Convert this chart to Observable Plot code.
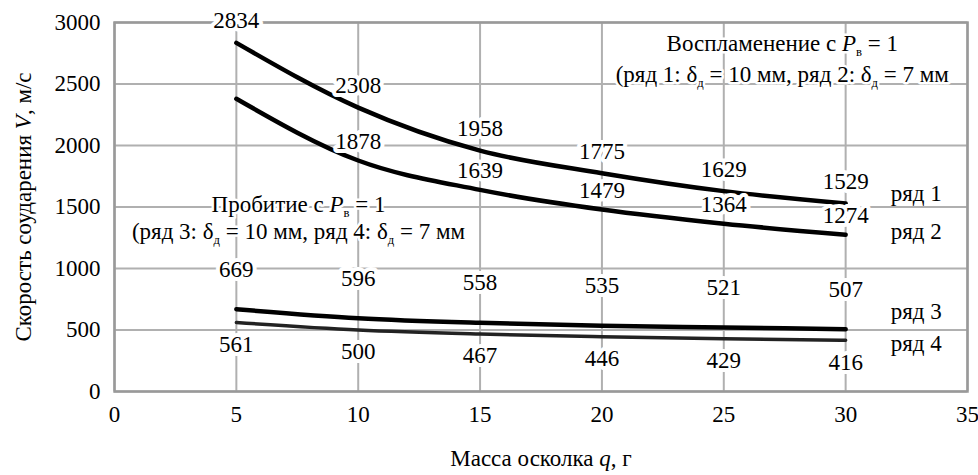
<!DOCTYPE html>
<html><head><meta charset="utf-8">
<script src="https://cdn.jsdelivr.net/npm/d3@7"></script>
<script src="https://cdn.jsdelivr.net/npm/@observablehq/plot@0.6"></script>
<style>
body{margin:0;background:#fff}
#chart svg, #chart svg text, #chart svg g {font-family:"Liberation Serif","Times New Roman",serif !important;}
</style>
</head><body><div id="chart"></div>
<script>
// ---- data ----
const masses  = [5, 10, 15, 20, 25, 30];
const series1 = [2834, 2308, 1958, 1775, 1629, 1529];
const series2 = [2380, 1878, 1639, 1479, 1364, 1274];
const series3 = [669, 596, 558, 535, 521, 507];
const series4 = [561, 500, 467, 446, 429, 416];
const series2Labeled = [false, true, true, true, true, true];
const seriesNames = ["ряд 1", "ряд 2", "ряд 3", "ряд 4"];
const xTicks = [0, 5, 10, 15, 20, 25, 30, 35];
const yTicks = [0, 500, 1000, 1500, 2000, 2500, 3000];
const xTitle = "Масса осколка *q*, г";
const yTitle = "Скорость соударения *V*, м/с";
const noteFire = ["Воспламенение с *P*_{в} = 1", "(ряд 1: δ_{д} = 10 мм, ряд 2: δ_{д} = 7 мм"];
const notePierce = ["Пробитие с *P*_{в} = 1", "(ряд 3: δ_{д} = 10 мм, ряд 4: δ_{д} = 7 мм"];
const noteFireAt = {x: 27.4, y: [2826, 2574]};
const notePierceAt = {x: 7.55, y: [1522, 1300]};

const rows = (vals) => masses.map((x, i) => ({x, v: vals[i], i}));
const d1 = rows(series1), d2 = rows(series2), d3 = rows(series3), d4 = rows(series4);
const allSeries = [d1, d2, d3, d4];
const ends = allSeries.map((d, k) => ({x: d[d.length - 1].x, v: d[d.length - 1].v, name: seriesNames[k]}));

const FS = 23;
const halo = {fill: "black", stroke: "white", strokeWidth: 8, fontSize: FS};
const noteHalo = {fill: "black", stroke: "white", strokeWidth: 5, fontSize: FS};
const lbl = (data, dy) => Plot.text(data, {x: "x", y: "v", text: d => String(d.v), dy, ...halo});
const note = (lines, at, k) => Plot.text([lines[k]], {x: () => at.x, y: () => at.y[k], text: d => d, ...noteHalo});

const chart = Plot.plot({
  width: 978, height: 475,
  marginLeft: 114, marginRight: 11, marginTop: 22, marginBottom: 84,
  style: {background: "white", color: "black"},
  x: {domain: [0, 35]},
  y: {domain: [0, 3000]},
  marks: [
    Plot.gridX(xTicks, {stroke: "#b0b0b0", strokeOpacity: 1, strokeWidth: 2}),
    Plot.gridY(yTicks, {stroke: "#b0b0b0", strokeOpacity: 1, strokeWidth: 2}),
    Plot.frame({stroke: "#999", strokeWidth: 2.5}),
    Plot.axisX(xTicks, {tickSize: 0, tickPadding: 14, fontSize: FS, tickFormat: d => String(d), label: xTitle, labelAnchor: "center", labelArrow: "none", labelOffset: 74}),
    Plot.axisY(yTicks, {tickSize: 0, tickPadding: 14, fontSize: FS, tickFormat: d => String(d), label: yTitle, labelAnchor: "center", labelArrow: "none", labelOffset: 100}),
    Plot.line(d1, {x: "x", y: "v", curve: "monotone-x", stroke: "black", strokeWidth: 4.5}),
    Plot.line(d2, {x: "x", y: "v", curve: "monotone-x", stroke: "black", strokeWidth: 4.5}),
    Plot.line(d3, {x: "x", y: "v", curve: "monotone-x", stroke: "black", strokeWidth: 4.5}),
    Plot.line(d4, {x: "x", y: "v", curve: "monotone-x", stroke: "#222", strokeWidth: 3.5}),
    lbl(d1, -22),
    lbl(d2.filter(d => series2Labeled[d.i]), -19),
    lbl(d3, -40),
    lbl(d4, 22),
    Plot.text([ends[0]], {x: "x", y: "v", text: "name", textAnchor: "start", dx: 45, dy: -10, fontSize: FS}),
    Plot.text([ends[1]], {x: "x", y: "v", text: "name", textAnchor: "start", dx: 45, dy: -3, fontSize: FS}),
    Plot.text([ends[2]], {x: "x", y: "v", text: "name", textAnchor: "start", dx: 45, dy: -18, fontSize: FS}),
    Plot.text([ends[3]], {x: "x", y: "v", text: "name", textAnchor: "start", dx: 45, dy: 3, fontSize: FS}),
    note(noteFire, noteFireAt, 1),
    note(noteFire, noteFireAt, 0),
    note(notePierce, notePierceAt, 1),
    note(notePierce, notePierceAt, 0)
  ]
});

// rich text: *italic* and _{subscript}
function richify(root) {
  const NS = "http://www.w3.org/2000/svg";
  const SUB = 5;
  root.querySelectorAll("text").forEach(t => {
    const walker = document.createTreeWalker(t, NodeFilter.SHOW_TEXT);
    const nodes = [];
    while (walker.nextNode()) nodes.push(walker.currentNode);
    for (const n of nodes) {
      const s = n.data;
      if (!/\*|_\{/.test(s)) continue;
      const frag = document.createDocumentFragment();
      const re = /\*([^*]+)\*|_\{([^}]+)\}|([^*_]+)/g;
      let m, shift = 0;
      while ((m = re.exec(s))) {
        const sp = document.createElementNS(NS, "tspan");
        if (m[2] !== undefined) {
          sp.setAttribute("font-size", "0.55em");
          sp.setAttribute("dy", SUB);
          sp.textContent = m[2];
          shift = SUB;
        } else {
          if (m[1] !== undefined) { sp.setAttribute("font-style", "italic"); sp.textContent = m[1]; }
          else sp.textContent = m[3];
          if (shift) { sp.setAttribute("dy", -shift); shift = 0; }
        }
        frag.appendChild(sp);
      }
      n.parentNode.replaceChild(frag, n);
    }
  });
}
richify(chart);
document.getElementById("chart").appendChild(chart);
</script>
</body></html>
